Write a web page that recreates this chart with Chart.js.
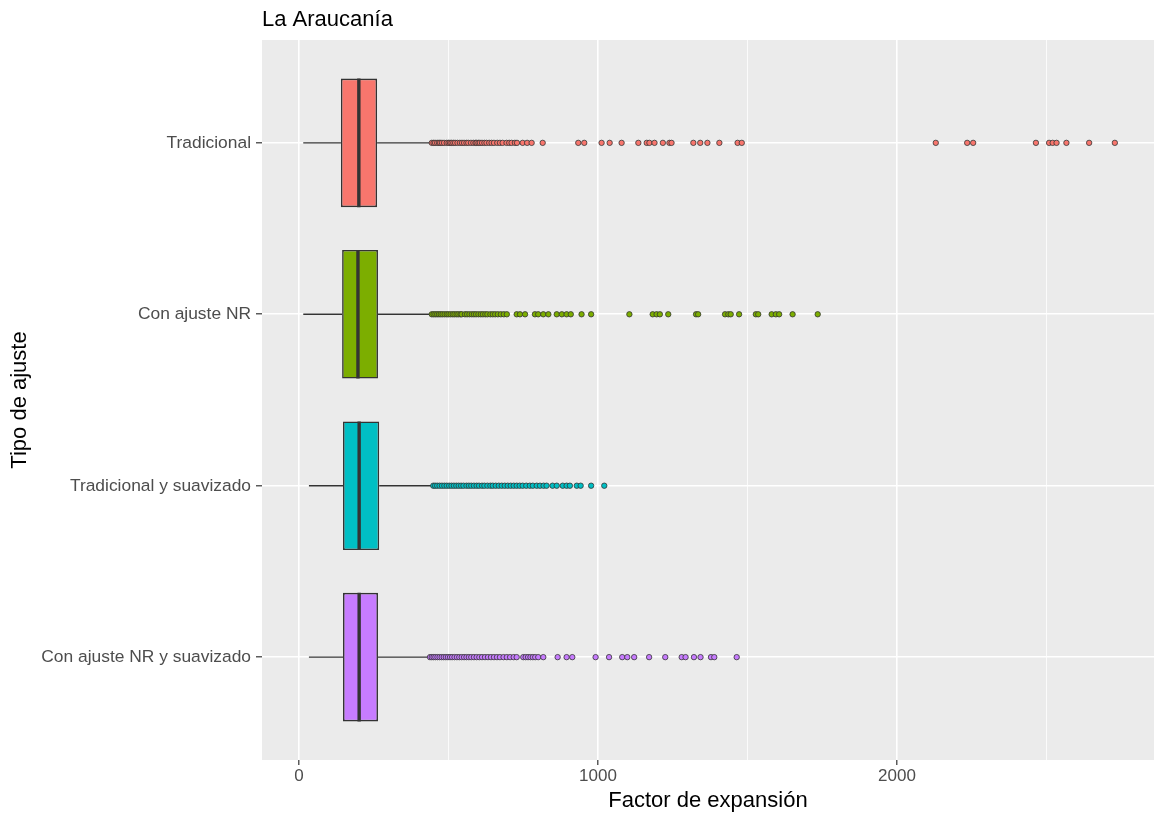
<!DOCTYPE html>
<html>
<head>
<meta charset="utf-8">
<script src="https://cdn.jsdelivr.net/npm/chart.js@4.4.1/dist/chart.umd.min.js"></script>
<style>
  html, body { margin: 0; padding: 0; background: #fff; }
</style>
</head>
<body>
<canvas id="Chart" width="1159" height="818"></canvas>
<script>
// categories, top to bottom
const categories = ["Tradicional", "Con ajuste NR", "Tradicional y suavizado", "Con ajuste NR y suavizado"];

// box stats
const whiskerLow = [14, 14, 33, 33];
const q1 = [140, 144, 147, 147];
const median = [200, 197, 201, 201];
const q3 = [261, 264, 268, 264];
const whiskerHigh = [443, 444, 447, 437];

// outliers
const outTradicional = [444, 450, 455, 462, 468, 472, 478, 485, 494, 500, 505, 510, 516, 522, 530, 538, 545, 552, 560, 566,
    575, 583, 590, 594, 600, 605, 612, 620, 627, 636, 644, 652, 663, 672, 681, 694, 703, 711, 722, 729, 748, 763, 778, 815,
    934, 954, 1012, 1039, 1079, 1135, 1163, 1172, 1189, 1217, 1239, 1246, 1319, 1342, 1366, 1406, 1467, 1481,
    2130, 2235, 2255, 2465, 2509, 2521, 2534, 2567, 2643, 2729];
const outAjusteNR = [444, 450, 456, 462, 468, 474, 480, 487, 494, 500, 507, 514, 520, 527, 533, 540, 544,
    555, 562, 570, 578, 585, 592, 600, 608, 615, 623, 630, 640, 648, 656, 665, 675, 685, 695,
    728, 739, 756, 789, 800, 817, 834, 862, 879, 895, 909, 945, 977, 1105, 1183, 1196, 1207, 1235, 1328, 1335,
    1425, 1436, 1444, 1472, 1528, 1536, 1581, 1595, 1606, 1651, 1735];
const outSuavizado = [449, 455, 462, 470, 478, 486, 494, 502, 510, 518, 526, 534, 542, 550, 560, 568, 576, 585, 594, 602,
    612, 620, 630, 640, 648, 658, 668, 678, 688, 698, 708, 718, 728, 738, 748, 760, 772, 782, 795, 806, 818, 828,
    848, 862, 882, 895, 906, 929, 942, 977, 1021];
const outAjusteNRSuavizado = [438, 444, 450, 456, 463, 470, 477, 484, 491, 498, 505, 512, 520, 528, 536, 544, 552, 560,
    568, 576, 585, 594, 603, 612, 622, 632, 642, 652, 662, 672, 684, 695, 706, 718, 728,
    750, 758, 766, 774, 782, 790, 800, 817, 865, 895, 914, 992, 1037, 1081, 1098, 1121, 1171, 1225, 1280, 1293,
    1321, 1343, 1378, 1389, 1464];
const outliers = [outTradicional, outAjusteNR, outSuavizado, outAjusteNRSuavizado];

const xTicks = [0, 500, 1000, 1500, 2000, 2500];
const fillColors = ["#F8766D", "#7CAE00", "#00BFC4", "#C77CFF"];

Chart.defaults.font.family = '"Liberation Sans", Arial, sans-serif';

const halfBox = 0.375;
let datasets = [];

// boxes
datasets.push({
    type: "bar",
    indexAxis: "y",
    data: categories.map((c, i) => ({ y: i + 1, x: [q1[i], q3[i]] })),
    backgroundColor: fillColors,
    borderColor: "#333333",
    borderWidth: 1.6,
    borderSkipped: false,
    barPercentage: 0.75,
    categoryPercentage: 1,
    order: 3
});

for (let i = 0; i < categories.length; i++) {
    // whiskers
    datasets.push({
        type: "line",
        data: [{ x: whiskerLow[i], y: i + 1 }, { x: q1[i], y: i + 1 }],
        borderColor: "#333333", borderWidth: 1.4, pointRadius: 0, order: 4
    });
    datasets.push({
        type: "line",
        data: [{ x: q3[i], y: i + 1 }, { x: whiskerHigh[i], y: i + 1 }],
        borderColor: "#333333", borderWidth: 1.4, pointRadius: 0, order: 4
    });
    // median
    datasets.push({
        type: "line",
        data: [{ x: median[i], y: i + 1 - halfBox }, { x: median[i], y: i + 1 + halfBox }],
        borderColor: "#333333", borderWidth: 3.4, pointRadius: 0, order: 2
    });
    // outliers
    datasets.push({
        type: "scatter",
        data: outliers[i].map(v => ({ x: v, y: i + 1 })),
        backgroundColor: fillColors[i],
        borderColor: "#333333",
        borderWidth: 0.8,
        pointRadius: 2.7,
        order: 1
    });
}

const panelPlugin = {
    id: "panel",
    beforeDraw(chart) {
        const { ctx, chartArea } = chart;
        ctx.save();
        ctx.fillStyle = "#EBEBEB";
        ctx.fillRect(chartArea.left, chartArea.top, chartArea.right - chartArea.left, chartArea.bottom - chartArea.top);
        ctx.restore();
    },
    afterDraw(chart) {
        const { ctx, chartArea } = chart;
        ctx.save();
        ctx.fillStyle = "#000";
        ctx.font = '22px "Liberation Sans", Arial, sans-serif';
        ctx.textBaseline = "middle";
        ctx.textAlign = "left";
        ctx.fillText("La Araucanía", chartArea.left, 20);
        ctx.restore();
    }
};

let chartElement = document.getElementById("Chart").getContext("2d");
let boxChart = new Chart(chartElement, {
    data: { datasets: datasets },
    plugins: [panelPlugin],
    options: {
        responsive: false,
        animation: false,
        layout: { padding: { top: 40, right: 5, left: 0, bottom: 0 } },
        plugins: {
            legend: { display: false },
            tooltip: { enabled: false }
        },
        scales: {
            x: {
                type: "linear",
                min: -124,
                max: 2860,
                offset: false,
                afterBuildTicks: axis => { axis.ticks = xTicks.map(v => ({ value: v })); },
                afterFit: axis => { axis.height = 58; },
                ticks: {
                    callback: v => (v % 1000 === 0 ? v : ""),
                    color: "#4D4D4D",
                    font: { size: 17 },
                    padding: 1,
                    maxRotation: 0,
                    autoSkip: false
                },
                grid: {
                    offset: false,
                    color: "#FFFFFF",
                    lineWidth: ctx => (ctx.tick && ctx.tick.value % 1000 === 0 ? 1.6 : 0.8),
                    tickColor: ctx => (ctx.tick && ctx.tick.value % 1000 === 0 ? "#333333" : "rgba(0,0,0,0)"),
                    tickWidth: 1.2,
                    tickLength: 5
                },
                border: { display: false },
                title: {
                    display: true,
                    text: "Factor de expansión",
                    color: "#000",
                    font: { size: 22 },
                    padding: { top: 0, bottom: 4 }
                }
            },
            y: {
                type: "linear",
                min: 0.4,
                max: 4.6,
                reverse: true,
                offset: false,
                afterBuildTicks: axis => { axis.ticks = categories.map((c, i) => ({ value: i + 1 })); },
                afterFit: axis => { axis.width = 262; },
                ticks: {
                    callback: v => categories[v - 1],
                    color: "#4D4D4D",
                    font: { size: 17.4 },
                    padding: 5,
                    autoSkip: false
                },
                grid: {
                    offset: false,
                    color: "#FFFFFF",
                    lineWidth: 1.6,
                    tickColor: "#333333",
                    tickWidth: 1.2,
                    tickLength: 6
                },
                border: { display: false },
                title: {
                    display: true,
                    text: "Tipo de ajuste",
                    color: "#000",
                    font: { size: 22 },
                    padding: { top: 7, bottom: 0 }
                }
            }
        }
    }
});
</script>
</body>
</html>
